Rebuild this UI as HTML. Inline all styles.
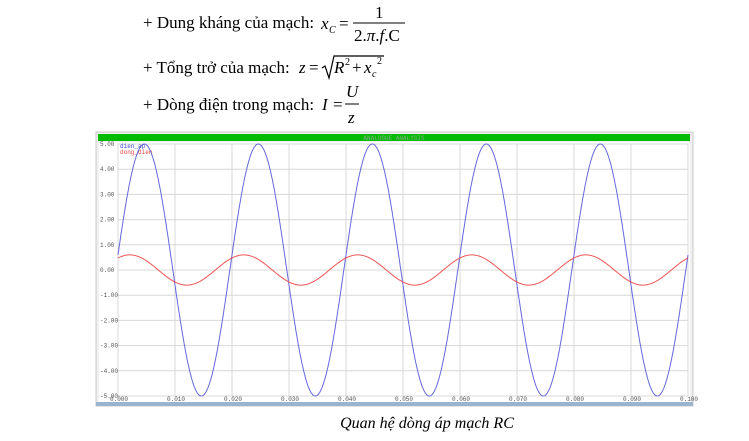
<!DOCTYPE html>
<html><head><meta charset="utf-8"><style>
html,body{margin:0;padding:0;background:#fff;width:749px;height:441px;overflow:hidden}
svg{display:block}
</style></head><body>
<svg id="s" width="749" height="441" xmlns="http://www.w3.org/2000/svg" font-family="Liberation Serif, serif" font-size="17">
<text x="143" y="28">+ Dung kháng của mạch:</text>
<text x="321" y="29" font-style="italic">x</text><text x="329" y="33" font-size="10" font-style="italic">C</text>
<text x="339" y="29">=</text>
<text x="375" y="18">1</text>
<line x1="353" y1="23" x2="405" y2="23" stroke="#000" stroke-width="1"/>
<text x="354" y="41">2.<tspan font-style="italic">π</tspan>.<tspan font-style="italic">f</tspan>.C</text>
<text x="143" y="73">+ Tổng trở của mạch:</text>
<text x="299" y="73" font-style="italic">z</text><text x="309" y="73">=</text>
<path d="M322,68 L325,66 L329,78 L334,56 L384,56" fill="none" stroke="#000" stroke-width="1.2"/>
<text x="334" y="73" font-style="italic">R</text><text x="345" y="65" font-size="10">2</text>
<text x="352" y="73">+</text><text x="364" y="73" font-style="italic">x</text><text x="372" y="77" font-size="10" font-style="italic">c</text><text x="377" y="64" font-size="10">2</text>
<text x="143" y="110">+ Dòng điện trong mạch:</text>
<text x="322" y="110" font-style="italic">I</text><text x="333" y="110">=</text>
<text x="346" y="97" font-style="italic">U</text>
<line x1="345" y1="104" x2="359" y2="104" stroke="#000"/>
<text x="348" y="123" font-style="italic">z</text>
<rect x="96" y="132" width="597" height="274" fill="#f0f0f0" stroke="#c8c8c8"/>
<rect x="98" y="134" width="592" height="7" fill="#00bb00"/>
<text x="394" y="140" font-family="Liberation Mono, monospace" font-size="6" fill="#8a8" text-anchor="middle">ANALOGUE ANALYSIS</text>
<rect x="99" y="142" width="591" height="260" fill="#fff"/>
<rect x="96" y="402" width="597" height="4" fill="#9ab4d0"/>
<g id="grid" stroke="#d8d8d8" stroke-width="1"></g>
<g id="lab" font-family="Liberation Mono, monospace" font-size="6" fill="#555"></g>
<text x="120" y="148" font-family="Liberation Mono, monospace" font-size="6" fill="#44c">dien_ap</text>
<text x="120" y="154" font-family="Liberation Mono, monospace" font-size="6" fill="#e44">dong_dien</text>
<polyline id="blue" fill="none" stroke="#6666dd" stroke-width="1"/>
<polyline id="red" fill="none" stroke="#ee5555" stroke-width="1"/>
<text x="427" y="428" font-style="italic" font-size="16" text-anchor="middle">Quan hệ dòng áp mạch RC</text>
</svg>
<script>
var X0=118,X1=688,Y5=144,Ym5=396;
function px(t){return X0+(X1-X0)*t/0.1}
function py(v){return Y5+(5-v)*(Ym5-Y5)/10}
var g=document.getElementById('grid'),l=document.getElementById('lab'),ns='http://www.w3.org/2000/svg';
for(var i=0;i<=10;i++){var x=px(i*0.01);var e=document.createElementNS(ns,'line');e.setAttribute('x1',x);e.setAttribute('x2',x);e.setAttribute('y1',Y5);e.setAttribute('y2',Ym5);g.appendChild(e);
var t=document.createElementNS(ns,'text');t.setAttribute('x',x-8);t.setAttribute('y',401);t.textContent=(i*0.01).toFixed(3);l.appendChild(t);}
for(var v=-5;v<=5;v++){var y=py(v);var e=document.createElementNS(ns,'line');e.setAttribute('x1',X0);e.setAttribute('x2',X1);e.setAttribute('y1',y);e.setAttribute('y2',y);g.appendChild(e);
var t=document.createElementNS(ns,'text');t.setAttribute('x',100);t.setAttribute('y',y+2);t.textContent=(v<0?'':'')+v.toFixed(2);l.appendChild(t);}
var b=[],r=[],w=2*Math.PI*50;
for(var k=0;k<=1000;k++){var t=k*0.0001;b.push(px(t).toFixed(1)+','+py(5*Math.sin(w*t+0.12)).toFixed(1));r.push(px(t).toFixed(1)+','+py(0.6*Math.sin(w*t+0.92)).toFixed(1));}
document.getElementById('blue').setAttribute('points',b.join(' '));
document.getElementById('red').setAttribute('points',r.join(' '));
</script>
</body></html>
